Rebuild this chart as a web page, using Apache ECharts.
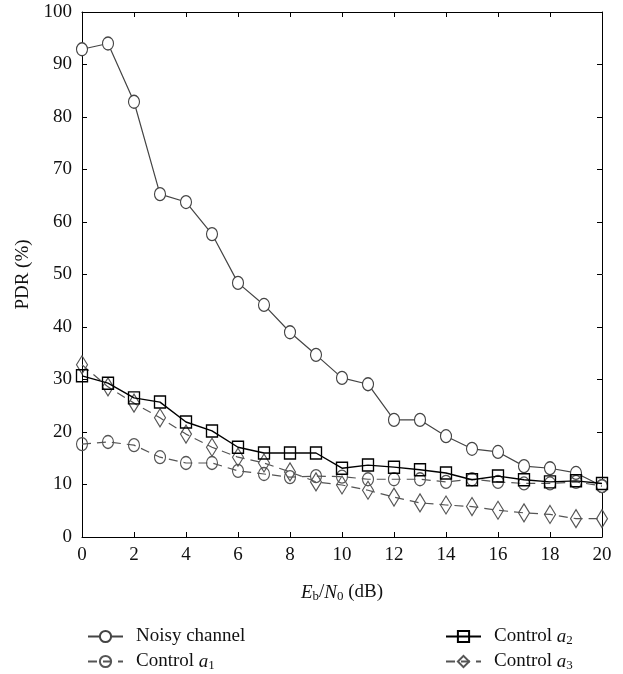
<!DOCTYPE html>
<html>
<head>
<meta charset="utf-8">
<script src="https://cdn.jsdelivr.net/npm/echarts@6/dist/echarts.min.js"></script>
<style>
  html, body { margin: 0; padding: 0; background: #fff; }
  #chart { width: 623px; height: 674px; }
</style>
</head>
<body>
<div id="chart"></div>
<script>
// Eb/N0 values (dB)
const snr = [0, 1, 2, 3, 4, 5, 6, 7, 8, 9, 10, 11, 12, 13, 14, 15, 16, 17, 18, 19, 20];

// PDR (%) for each curve
const noisyChannel = [92.9, 94.0, 82.9, 65.3, 63.8, 57.7, 48.4, 44.2, 39.0, 34.7, 30.3, 29.1, 22.3, 22.3, 19.2, 16.8, 16.2, 13.5, 13.1, 12.2, 9.7];
const controlA1 = [17.7, 18.1, 17.5, 15.2, 14.1, 14.1, 12.6, 12.0, 11.4, 11.6, 11.5, 11.0, 11.0, 11.0, 10.5, 11.0, 10.5, 10.2, 10.2, 10.5, 9.7];
const controlA2 = [30.7, 29.3, 26.5, 25.7, 21.9, 20.2, 17.1, 16.0, 16.0, 16.0, 13.1, 13.7, 13.3, 12.8, 12.2, 10.9, 11.6, 10.9, 10.5, 10.7, 10.2];
const controlA3 = [32.8, 28.6, 25.5, 22.7, 19.6, 17.1, 15.2, 14.1, 12.4, 10.5, 9.9, 8.9, 7.6, 6.5, 6.1, 5.8, 5.1, 4.6, 4.3, 3.5, 3.5];

const seriesNames = ["Noisy channel", "Control a1", "Control a2", "Control a3"];

const FONT = "Liberation Serif";

function pairs(values) {
  return snr.map((x, i) => [x, values[i]]);
}

function legendLabel(name) {
  if (name === "Noisy channel") return "{n|Noisy channel}";
  const idx = name.slice(-1);
  return "{n|Control }{i|a}{s|" + idx + "}";
}

const richText = {
  n: { fontFamily: FONT, fontSize: 19, color: "#111" },
  i: { fontFamily: FONT, fontSize: 19, fontStyle: "italic", color: "#111" },
  s: { fontFamily: FONT, fontSize: 13, color: "#111", padding: [8, 0, 0, 0] },
};

// one legend per entry so the 2x2 layout matches the reference
function legendAt(name, left, top) {
  return {
    data: [name],
    left: left,
    top: top,
    itemWidth: 35,
    itemHeight: 14,
    formatter: legendLabel,
    textStyle: { rich: richText, padding: [0, 0, 0, 8] },
  };
}

const chart = echarts.init(document.getElementById("chart"));

const tickStyle = { inside: true, length: 5, lineStyle: { color: "#000", width: 1 } };
const lineAxis = { onZero: false, lineStyle: { color: "#000", width: 1 } };

const option = {
  backgroundColor: "#fff",
  animation: false,
  grid: { left: 82, right: 21, top: 12, bottom: 137 },
  legend: [
    legendAt(seriesNames[0], 82, 622),
    legendAt(seriesNames[1], 82, 647),
    legendAt(seriesNames[2], 440, 622),
    legendAt(seriesNames[3], 440, 647),
  ],
  xAxis: [
    {
      type: "value",
      min: 0,
      max: 20,
      interval: 2,
      axisLine: lineAxis,
      axisTick: tickStyle,
      splitLine: { show: false },
      axisLabel: { fontFamily: FONT, fontSize: 19, color: "#111", margin: 9 },
      name: "{i|E}{s|b}{n|/}{i|N}{s|0}{n| (dB)}",
      nameLocation: "middle",
      nameGap: 45,
      nameTextStyle: { rich: richText },
    },
    {
      type: "value",
      position: "top",
      min: 0,
      max: 20,
      interval: 2,
      axisLine: lineAxis,
      axisTick: tickStyle,
      axisLabel: { show: false },
      splitLine: { show: false },
    },
  ],
  yAxis: [
    {
      type: "value",
      min: 0,
      max: 100,
      interval: 10,
      axisLine: lineAxis,
      axisTick: tickStyle,
      splitLine: { show: false },
      axisLabel: { fontFamily: FONT, fontSize: 19, color: "#111", margin: 10 },
      name: "PDR (%)",
      nameLocation: "middle",
      nameGap: 49,
      nameTextStyle: { fontFamily: FONT, fontSize: 19, color: "#111" },
    },
    {
      type: "value",
      position: "right",
      min: 0,
      max: 100,
      interval: 10,
      axisLine: lineAxis,
      axisTick: tickStyle,
      axisLabel: { show: false },
      splitLine: { show: false },
    },
  ],
  series: [
    {
      name: seriesNames[0],
      type: "line",
      data: pairs(noisyChannel),
      symbol: "circle",
      symbolSize: [11, 13],
      lineStyle: { color: "#444", width: 1.2 },
      itemStyle: { color: "#fff", borderColor: "#444", borderWidth: 1.2 },
      z: 2,
    },
    {
      name: seriesNames[1],
      type: "line",
      data: pairs(controlA1),
      symbol: "circle",
      symbolSize: [11, 13],
      lineStyle: { color: "#555", width: 1.2, type: [9, 6] },
      itemStyle: { color: "rgba(255,255,255,0)", borderColor: "#555", borderWidth: 1.2 },
      z: 3,
    },
    {
      name: seriesNames[2],
      type: "line",
      data: pairs(controlA2),
      symbol: "rect",
      symbolSize: [11, 12],
      lineStyle: { color: "#000", width: 1.4 },
      itemStyle: { color: "rgba(255,255,255,0)", borderColor: "#000", borderWidth: 1.4 },
      z: 4,
    },
    {
      name: seriesNames[3],
      type: "line",
      data: pairs(controlA3),
      symbol: "diamond",
      symbolSize: [11, 18],
      lineStyle: { color: "#555", width: 1.2, type: [9, 6] },
      itemStyle: { color: "rgba(255,255,255,0)", borderColor: "#555", borderWidth: 1.2 },
      z: 3,
    },
  ],
};

chart.setOption(option);
</script>
</body>
</html>
